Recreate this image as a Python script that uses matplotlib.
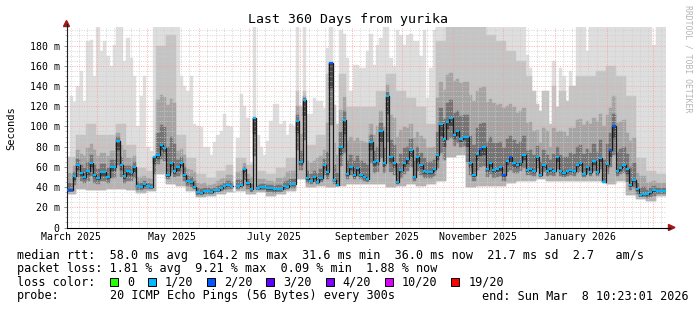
import datetime as dt
import numpy as np
import matplotlib
matplotlib.use("Agg")
import matplotlib.pyplot as plt
import matplotlib.dates as mdates
from matplotlib.patches import Polygon, Rectangle

nan = np.nan

# 2-day steps, Mar 13 2025 10:23:01 -> Mar 8 2026 10:23:01
start = dt.datetime(2025, 3, 13, 10, 23, 1)
step_days = 2

# median rtt per step (ms)
med = [37, 37, 51, 62, 54, 50, 56, 64, 52, 49, 55, 55, 50, 60, 60, 86, 62, 51, 56, 55, 60, 41, 40, 43, 41, 40, 70, 72, 82, 79,
       52, 64, 56, 60, 64, 52, 46, 45, 40, 35, 34, 36, 36, 35, 37, 37, 39, 41, 42, 41, nan, 41, 42, 58, 44, 38, 108, 39, 40, 40,
       39, 39, 38, 38, 38, 41, 40, 43, 43, 105, 65, 126, 49, 46, 50, 45, 49, 62, 55, 163, 47, 42, 80, 106, 53, 60, 52, 59, 52, 50,
       48, 85, 65, 66, 95, 64, 130, 70, 64, 45, 57, 64, 68, 77, 50, 70, 62, 56, 55, 55, 58, 72, 102, 88, 104, 108, 92, 95, 88, 90,
       90, 64, 52, 73, 78, 80, 58, 64, 57, 58, 60, 52, 66, 70, 64, 62, 65, 72, 57, 58, 56, 70, 52, 62, 56, 58, 56, 70, 56, 54,
       56, 57, 56, 62, 64, 53, 60, 55, 66, 55, 69, 45, 63, 77, 100, 56, 59, 62, 58, 42, 47, 38, 32, 33, 33, 35, 37, 36, 36, 36]

# loss per step, in twentieths
loss = [2, 2, 1, 1, 1, 1, 1, 1, 1, 1, 1, 1, 1, 1, 1, 1, 1, 1, 1, 1, 1, 1, 1, 1, 1, 1, 1, 1, 1, 1,
        1, 1, 1, 1, 1, 1, 1, 1, 1, 1, 1, 1, 1, 1, 1, 1, 1, 1, 1, 1, 1, 1, 1, 1, 1, 1, 1, 1, 1, 1,
        1, 1, 1, 1, 1, 1, 1, 1, 1, 1, 1, 1, 1, 1, 1, 1, 1, 1, 1, 2, 1, 1, 1, 1, 1, 1, 1, 1, 1, 1,
        1, 1, 1, 1, 1, 1, 1, 1, 1, 1, 1, 1, 1, 1, 1, 1, 1, 1, 1, 1, 1, 1, 1, 1, 1, 1, 1, 1, 1, 1,
        1, 1, 1, 1, 2, 1, 1, 1, 1, 1, 1, 2, 1, 2, 1, 1, 1, 1, 1, 1, 1, 1, 1, 1, 1, 1, 1, 1, 1, 1,
        1, 1, 1, 1, 1, 1, 1, 1, 1, 1, 1, 1, 1, 2, 2, 1, 1, 1, 1, 1, 1, 1, 1, 1, 1, 1, 1, 1, 1, 1]

# top of the smoke (slowest ping) per step
hi = [70, 130, 124, 140, 155, 125, 185, 186, 150, 198, 175, 185, 170, 160, 181, 198, 198, 165, 188, 168, 150, 100, 130, 150, 80, 76, 198, 198, 198, 198,
      198, 198, 198, 198, 150, 140, 135, 150, 102, 100, 99, 80, 80, 72, 85, 92, 95, 112, 100, 99, nan, 89, 132, 120, 108, 65, 198, 92, 80, 72,
      86, 105, 122, 122, 102, 105, 92, 102, 100, 198, 120, 198, 112, 112, 128, 125, 125, 118, 178, 200, 121, 102, 195, 191, 168, 135, 161, 161, 158, 158,
      175, 191, 161, 181, 188, 198, 198, 168, 160, 195, 190, 181, 190, 191, 185, 185, 170, 195, 128, 158, 195, 198, 198, 198, 198, 198, 198, 198, 198, 198,
      198, 198, 198, 198, 198, 198, 198, 198, 198, 198, 198, 198, 198, 198, 198, 198, 198, 198, 171, 158, 135, 122, 115, 135, 135, 102, 165, 119, 158, 150,
      125, 155, 140, 198, 198, 198, 175, 198, 198, 198, 198, 198, 198, 198, 198, 198, 198, 198, 198, 198, 198, 198, 198, 198, 198, 198, 181, 198, 198, 198]

# 6-day blocks: top of the denser smoke and bottom of the smoke (fastest ping)
mid6 = [70, 92, 102, 92, 92, 102, 82, 59, 56, 180,
        190, 92, 69, 53, 49, 56, 62, 69, 62, 56,
        53, 59, 69, 135, 82, 92, 152, 152, 119, 119,
        119, 135, 152, 135, 128, 119, 102, 185, 198, 198,
        198, 198, 190, 185, 175, 165, 150, 140, 140, 135,
        140, 150, 150, 155, 160, 150, 130, 69, 56, 53]
lo6 = [33, 38, 37, 37, 38, 38, 37, 34, 36, 53,
       43, 41, 36, 30, 31, 33, 35, 36, 33, 35,
       31, 33, 36, 48, 40, 41, 40, 41, 43, 43,
       43, 43, 40, 41, 43, 41, 43, 46, 70, 72,
       40, 41, 41, 41, 44, 46, 46, 48, 46, 46,
       46, 46, 46, 46, 43, 46, 32, 28, 26, 31]

loss_labels = ["0", "1/20", "2/20", "3/20", "4/20", "10/20", "19/20"]
loss_colors = ["#26ff00", "#00b8ff", "#0059ff", "#5e00ff", "#7e00ff", "#dd00ff", "#ff0000"]

W, H = 697, 310
fig = plt.figure(figsize=(W / 100, H / 100), dpi=100, facecolor="white")
x0, x1, ybot, ytop = 66.5, 665.5, 227.5, 27.4
ax = fig.add_axes([x0 / W, 1 - ybot / H, (x1 - x0) / W, (ybot - ytop) / H])
ax.set_facecolor("white")

med = np.array(med, dtype=float)
hi = np.array(hi, dtype=float)
n = len(med)
mid = np.minimum(np.repeat(mid6, 3).astype(float), hi)
lo = np.repeat(lo6, 3).astype(float)

edges = mdates.date2num([start + dt.timedelta(days=step_days * i) for i in range(n + 1)])
left = edges[:-1]
wd = edges[1] - edges[0]

def band(bottom, top, color):
    h = np.where(top > bottom, top - bottom, 0)
    ax.bar(left, h, bottom=bottom, width=wd, align="edge", color=color,
           edgecolor=color, linewidth=0.3, zorder=1)

# smoke: lighter far from the median, darker close to it
upper = np.maximum(mid, med)
band(lo, hi, "#dedede")
band(lo, mid, "#c4c4c4")
band(med, (med + upper) / 2, "#a4a4a4")
band(med, med + (upper - med) / 5, "#747474")
band(lo, med, "#b4b4b4")
band((lo + med) / 2, med, "#7c7c7c")
band(med - (med - lo) / 5, med, "#4a4a4a")

ymax = 198
ax.set_ylim(0, ymax)
ax.set_xlim(edges[0], edges[-1])

# grid
end = start + dt.timedelta(days=360)
minor_x, major_x = [], []
y, m = 2025, 3
while dt.datetime(y, m, 1) < end:
    ms = dt.datetime(y, m, 1)
    if ms > start:
        major_x.append(ms)
    for d in (6, 11, 16, 21, 26):
        t = dt.datetime(y, m, d)
        if start < t < end:
            minor_x.append(t)
    m += 1
    if m > 12:
        y, m = y + 1, 1

gkw = dict(lw=0.55, linestyle=(0, (1.3, 1.8)), zorder=2)
for v in range(5, ymax, 5):
    if v % 20:
        ax.axhline(v, color="#cdcdcd", **gkw)
for t in minor_x:
    ax.axvline(mdates.date2num(t), color="#cdcdcd", **gkw)
for v in range(20, ymax, 20):
    ax.axhline(v, color="#ff9a9a", **gkw)
for t in major_x:
    ax.axvline(mdates.date2num(t), color="#ff9a9a", **gkw)

# median: dark connecting line plus coloured dashes by loss
ax.step(edges, np.append(med, med[-1]), where="post", color="#1a1a1a", lw=0.9, zorder=3)
ax.hlines(med, left, left + wd, colors=[loss_colors[k] for k in loss], lw=1.6, zorder=4)

# axes look
for s in ("top", "right"):
    ax.spines[s].set_visible(False)
ax.spines["left"].set_color("#202020")
ax.spines["bottom"].set_color("#000000")
ax.spines["left"].set_linewidth(0.8)
ax.spines["bottom"].set_linewidth(0.8)

mono = "DejaVu Sans Mono"
yt = list(range(0, 181, 20))
ax.set_yticks(yt)
ax.set_yticklabels(["0" if v == 0 else f"{v} m" for v in yt], family=mono, fontsize=7.1)
ax.set_yticks(range(5, ymax, 5), minor=True)
ax.tick_params(axis="y", which="major", length=2.5, width=0.6, color="#808080", pad=2.5)
ax.tick_params(axis="y", which="minor", length=1.5, width=0.5, color="#a0a0a0")

lab_t, lab_s = [], []
for yy, mm in [(2025, 3), (2025, 5), (2025, 7), (2025, 9), (2025, 11), (2026, 1)]:
    t = dt.datetime(yy, mm, 1) + dt.timedelta(days=15)
    lab_t.append(mdates.date2num(t))
    lab_s.append(t.strftime("%B %Y"))
ax.set_xticks(lab_t)
ax.set_xticklabels(lab_s, family=mono, fontsize=7.1)
ax.tick_params(axis="x", length=0, pad=3.4)

# arrows at axis ends
def px(xp, yp):
    return (xp / 100, (H - yp) / 100)

ar = "#a01818"
fig.add_artist(plt.Line2D([x0 / W, x0 / W], [1 - ytop / H, 1 - 24 / H], color="#202020", lw=0.8))
fig.add_artist(Polygon([px(x0, 20.5), px(x0 - 3, 26.5), px(x0 + 3, 26.5)], closed=True,
                       color=ar, transform=fig.dpi_scale_trans))
fig.add_artist(plt.Line2D([x1 / W, 670 / W], [1 - ybot / H, 1 - ybot / H], color="#000000", lw=0.8))
fig.add_artist(Polygon([px(675, ybot), px(668.5, ybot - 3), px(668.5, ybot + 3)], closed=True,
                       color=ar, transform=fig.dpi_scale_trans))

def ftext(xp, yp, s, **kw):
    kw.setdefault("family", mono)
    fig.text(xp / W, 1 - yp / H, s, **kw)

ftext(347.5, 19, "Last 360 Days from yurika", fontsize=9.5, ha="center", va="center")
ftext(11, 128, "Seconds", fontsize=7.5, rotation=90, ha="center", va="center")
ftext(688, 5, "RRDTOOL / TOBI OETIKER", fontsize=5.9, rotation=270, ha="center", va="top",
      color="#b4b4b4")

lx, fs = 16.7, 8.5
cw = 7.15
ftext(lx, 255, "median rtt:  58.0 ms avg  164.2 ms max  31.6 ms min  36.0 ms now  21.7 ms sd  2.7   am/s",
      fontsize=fs, va="center")
ftext(lx, 268.5, "packet loss: 1.81 % avg  9.21 % max  0.09 % min  1.88 % now", fontsize=fs, va="center")
ftext(lx, 282, "loss color:", fontsize=fs, va="center")
cur = lx + 13 * cw
for lab, col in zip(loss_labels, loss_colors):
    fig.add_artist(Rectangle(px(cur, 286), 0.08, 0.08, facecolor=col, edgecolor="black",
                             lw=0.7, transform=fig.dpi_scale_trans))
    ftext(cur + 2.4 * cw, 282, lab, fontsize=fs, va="center")
    cur = cur + 2.4 * cw + len(lab) * cw + 1.9 * cw
ftext(lx, 296, "probe:", fontsize=fs, va="center")
ftext(lx + 13 * cw, 296, "20 ICMP Echo Pings (56 Bytes) every 300s", fontsize=fs, va="center")
ftext(689, 296, "end: Sun Mar  8 10:23:01 2026", fontsize=fs, va="center", ha="right")

fig.savefig("out.png", dpi=100, facecolor="white")
